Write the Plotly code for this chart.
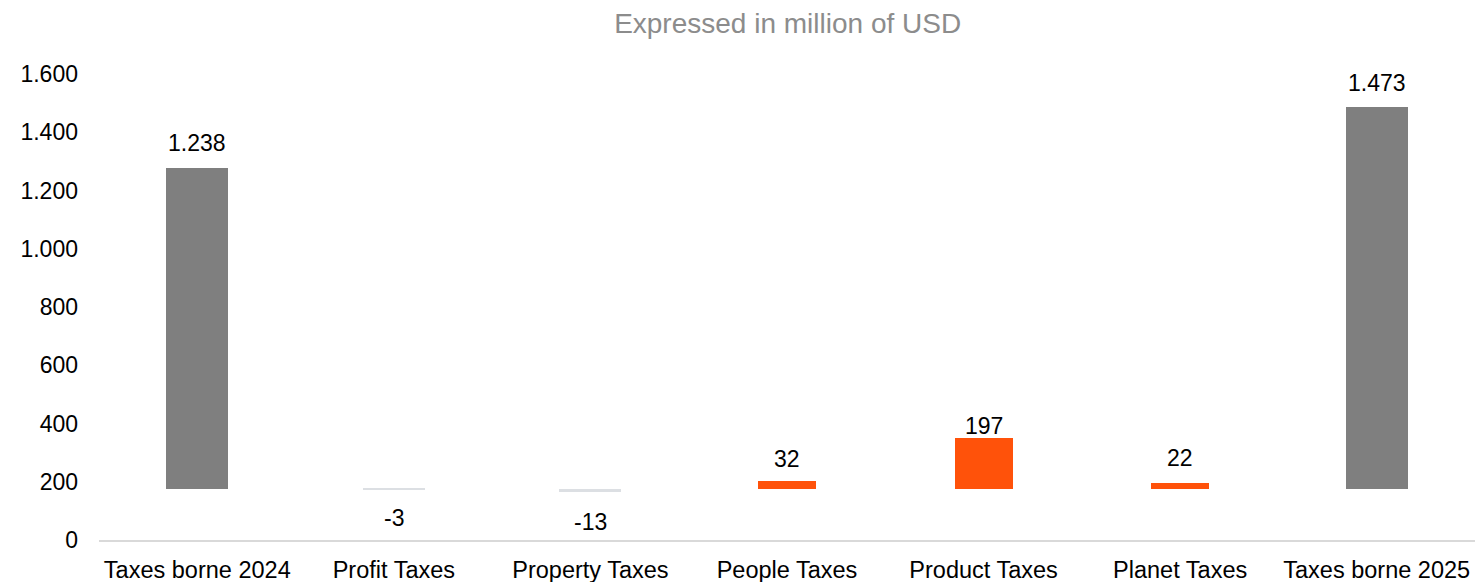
import plotly.graph_objects as go

# ---- data ----
categories = ["Taxes borne 2024", "Profit Taxes", "Property Taxes", "People Taxes",
              "Product Taxes", "Planet Taxes", "Taxes borne 2025"]
values = [1238, -3, -13, 32, 197, 22, 1473]
y_ticks = [0, 200, 400, 600, 800, 1000, 1200, 1400, 1600]

# ---- style ----
FONT = "Arial, 'Liberation Sans', sans-serif"
bar_colors = ["#7F7F7F", "#DCDFE3", "#DCDFE3", "#FF520A", "#FF520A", "#FF520A", "#7F7F7F"]
bar_widths = [0.315, 0.315, 0.315, 0.295, 0.295, 0.295, 0.315]
label_gap = [16, 17, 19, 13, 3, 16, 15]  # px between bar end and label

def fmt(v):
    return f"{v:,}".replace(",", ".")

fig = go.Figure()
fig.add_trace(go.Bar(
    x=categories, y=values, yaxis="y2",
    marker=dict(color=bar_colors, line=dict(width=0)),
    width=bar_widths, hoverinfo="skip", showlegend=False,
))

# invisible trace on primary axis to keep it active
fig.add_trace(go.Scatter(x=categories, y=[None]*len(categories), mode="markers",
                         showlegend=False, hoverinfo="skip"))

for c, v, g in zip(categories, values, label_gap):
    fig.add_annotation(
        x=c, y=v, xref="x", yref="y2", text=fmt(v), showarrow=False,
        yanchor="bottom" if v >= 0 else "top",
        yshift=(g - 6) if v >= 0 else -(g - 4),
        font=dict(family=FONT, size=23, color="#000000"),
    )

fig.update_layout(
    width=1475, height=582,
    margin=dict(l=99, r=0, t=74, b=42, autoexpand=False),
    paper_bgcolor="white", plot_bgcolor="white",
    separators=",.",
    bargap=0.0,
    font=dict(family=FONT, size=23, color="#000000"),
    title=dict(text="Expressed in million of USD", x=0.534, xanchor="center",
               yref="container", y=0.96, yanchor="middle",
               font=dict(family=FONT, size=28, color="#8C8C8C")),
    xaxis=dict(type="category", showgrid=False, zeroline=False,
               showline=True, linecolor="#D9D9D9", linewidth=2,
               ticks="", tickfont=dict(size=23.5, color="#000000"),
               ticklabelstandoff=8),
    yaxis=dict(range=[0, 1600], tickvals=y_ticks, tickformat=",.0f",
               showgrid=False, zeroline=False, showline=False, ticks="",
               tickfont=dict(size=23, color="#000000"), ticklabelstandoff=20),
    yaxis2=dict(range=[-196.9, 1602.0], overlaying="y", visible=False,
                showgrid=False, zeroline=False),
)

fig.write_html("out.html")
